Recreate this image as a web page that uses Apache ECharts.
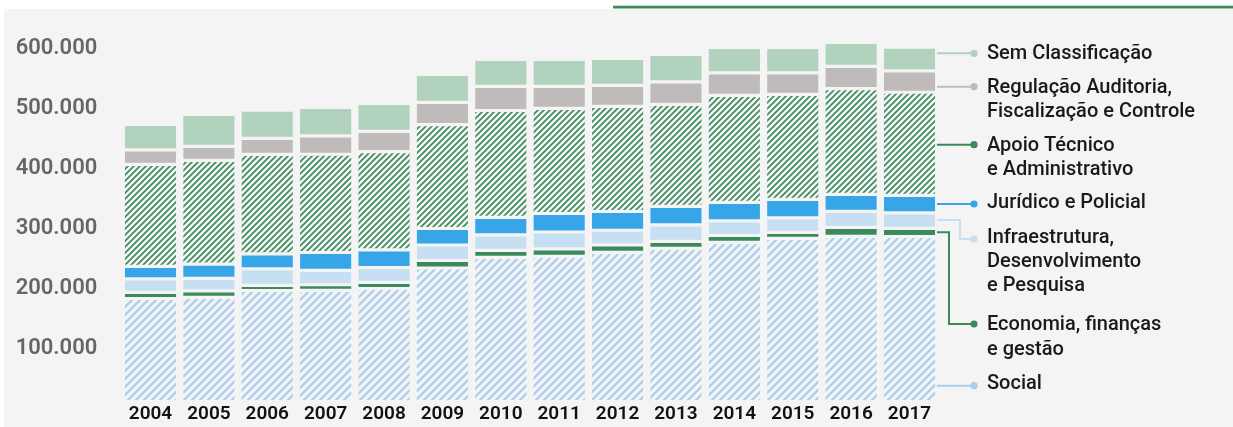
<!DOCTYPE html>
<html>
<head>
<meta charset="utf-8">
<script src="https://cdn.jsdelivr.net/npm/echarts@6/dist/echarts.min.js"></script>
<style>
html,body{margin:0;padding:0;background:#fff;}
#chart{width:1233px;height:427px;}
</style>
</head>
<body>
<div id="chart"></div>
<script>
const years = ['2004','2005','2006','2007','2008','2009','2010','2011','2012','2013','2014','2015','2016','2017'];
const social = [171700, 173700, 185000, 185300, 188300, 222500, 240300, 242000, 248700, 255300, 265300, 272000, 275300, 275000];
const economia = [10300, 10800, 8700, 9300, 10300, 12500, 11700, 12500, 12500, 11700, 11700, 10000, 15000, 13700];
const infraestrutura = [22500, 20800, 27500, 24000, 24700, 25800, 25800, 28000, 24200, 27500, 24200, 24200, 26700, 25800];
const juridico = [20800, 23500, 25000, 29700, 29500, 27500, 29200, 30800, 31300, 30800, 30800, 30800, 28300, 29200];
const apoio = [170000, 173200, 165800, 163800, 163800, 173300, 178000, 175300, 175300, 170000, 178300, 175000, 176000, 171700];
const regulacao = [24200, 23300, 26700, 30700, 33700, 37000, 40300, 36700, 35000, 37500, 37500, 35800, 37300, 35800];
const semClass = [42500, 53300, 46700, 47500, 46700, 46700, 45000, 45000, 45000, 45800, 42500, 42500, 40000, 39200];
const yTicks = [0, 100000, 200000, 300000, 400000, 500000, 600000];

const BG = '#f4f4f4';
function hatch(color, size, lw) {
  const c = document.createElement('canvas');
  c.width = size; c.height = size;
  const g = c.getContext('2d');
  g.fillStyle = BG; g.fillRect(0, 0, size, size);
  g.strokeStyle = color; g.lineWidth = lw;
  g.beginPath();
  g.moveTo(-size, size * 2); g.lineTo(size * 2, -size);
  g.moveTo(-size, size); g.lineTo(size, -size);
  g.moveTo(0, size * 2); g.lineTo(size * 2, 0);
  g.stroke();
  return c;
}
const greenHatch = { image: hatch('#3d8c5e', 6, 1.7), repeat: 'repeat' };
const blueHatch = { image: hatch('#a7cdef', 8, 2.2), repeat: 'repeat' };

function fmt(v) { return String(v).replace(/\B(?=(\d{3})+(?!\d))/g, '.'); }

const chart = echarts.init(document.getElementById('chart'));
function bar(name, data, color) {
  return {
    name, type: 'bar', stack: 'total', data, barWidth: 54.3,
    itemStyle: { color, borderColor: BG, borderWidth: 1.6 },
    emphasis: { disabled: true }
  };
}
const legendColor = '#1a1a1a';
function lt(text, y) {
  return { type: 'text', x: 987, y: y, z: 10,
    style: { text, fontFamily: 'Roboto', fontSize: 20, fontWeight: 500, fill: legendColor, verticalAlign: 'middle', align: 'left' } };
}
function lline(points, color) {
  return { type: 'polyline', z: 10, shape: { points },
    style: { stroke: color, lineWidth: 2, fill: null } };
}
function ldot(y, color) {
  return { type: 'circle', z: 11, shape: { cx: 974, cy: y, r: 3.6 }, style: { fill: color } };
}
chart.setOption({
  animation: false,
  backgroundColor: '#fff',
  grid: { left: 121.3, right: 294.3, top: 41.5, bottom: 25.5 },
  xAxis: {
    type: 'category', data: years,
    axisLine: { show: false }, axisTick: { show: false },
    axisLabel: { color: '#111', fontFamily: 'Roboto', fontWeight: 600, fontSize: 19, margin: 3, lineHeight: 20 }
  },
  yAxis: {
    type: 'value', min: yTicks[0], max: yTicks[yTicks.length - 1], interval: yTicks[1] - yTicks[0],
    axisLine: { show: false }, axisTick: { show: false }, splitLine: { show: false },
    axisLabel: {
      showMinLabel: false, color: '#666', fontFamily: 'Roboto', fontWeight: 600, fontSize: 22,
      margin: 24, verticalAlign: 'top', lineHeight: 14,
      formatter: v => v === 0 ? '' : fmt(v)
    }
  },
  series: [
    bar('Social', social, blueHatch),
    bar('Economia, finanças e gestão', economia, '#3a8a5c'),
    bar('Infraestrutura, Desenvolvimento e Pesquisa', infraestrutura, '#c6dff3'),
    bar('Jurídico e Policial', juridico, '#36a6e8'),
    bar('Apoio Técnico e Administrativo', apoio, greenHatch),
    bar('Regulação Auditoria, Fiscalização e Controle', regulacao, '#bfbbba'),
    bar('Sem Classificação', semClass, '#b1d2bc')
  ],
  graphic: [
    { type: 'rect', z: -10, silent: true, shape: { x: 4, y: 9, width: 1229, height: 418 }, style: { fill: BG } },
    { type: 'rect', z: 10, silent: true, shape: { x: 613, y: 5.8, width: 620, height: 2.7 }, style: { fill: '#3a8a5c' } },
    lline([[937, 53.3], [974, 53.3]], '#b1d2bc'), ldot(53.3, '#b1d2bc'),
    lline([[937, 86.7], [974, 86.7]], '#bfbbba'), ldot(86.7, '#bfbbba'),
    lline([[937, 144.7], [974, 144.7]], '#3a8a5c'), ldot(144.7, '#3a8a5c'),
    lline([[937, 204], [974, 204]], '#36a6e8'), ldot(204, '#36a6e8'),
    lline([[937, 220], [960, 220], [960, 239], [974, 239]], '#c6dff3'), ldot(239, '#c6dff3'),
    lline([[937, 232.3], [949, 232.3], [949, 324], [974, 324]], '#3a8a5c'), ldot(324, '#3a8a5c'),
    lline([[937, 385.7], [974, 385.7]], '#a7cdef'), ldot(385.7, '#a7cdef'),
    lt('Sem Classificação', 54.3),
    lt('Regulação Auditoria,', 88.3),
    lt('Fiscalização e Controle', 111.7),
    lt('Apoio Técnico', 146),
    lt('e Administrativo', 170),
    lt('Jurídico e Policial', 203.3),
    lt('Infraestrutura,', 238.3),
    lt('Desenvolvimento', 262.3),
    lt('e Pesquisa', 285.7),
    lt('Economia, finanças', 325),
    lt('e gestão', 350),
    lt('Social', 384)
  ]
});
</script>
</body>
</html>
